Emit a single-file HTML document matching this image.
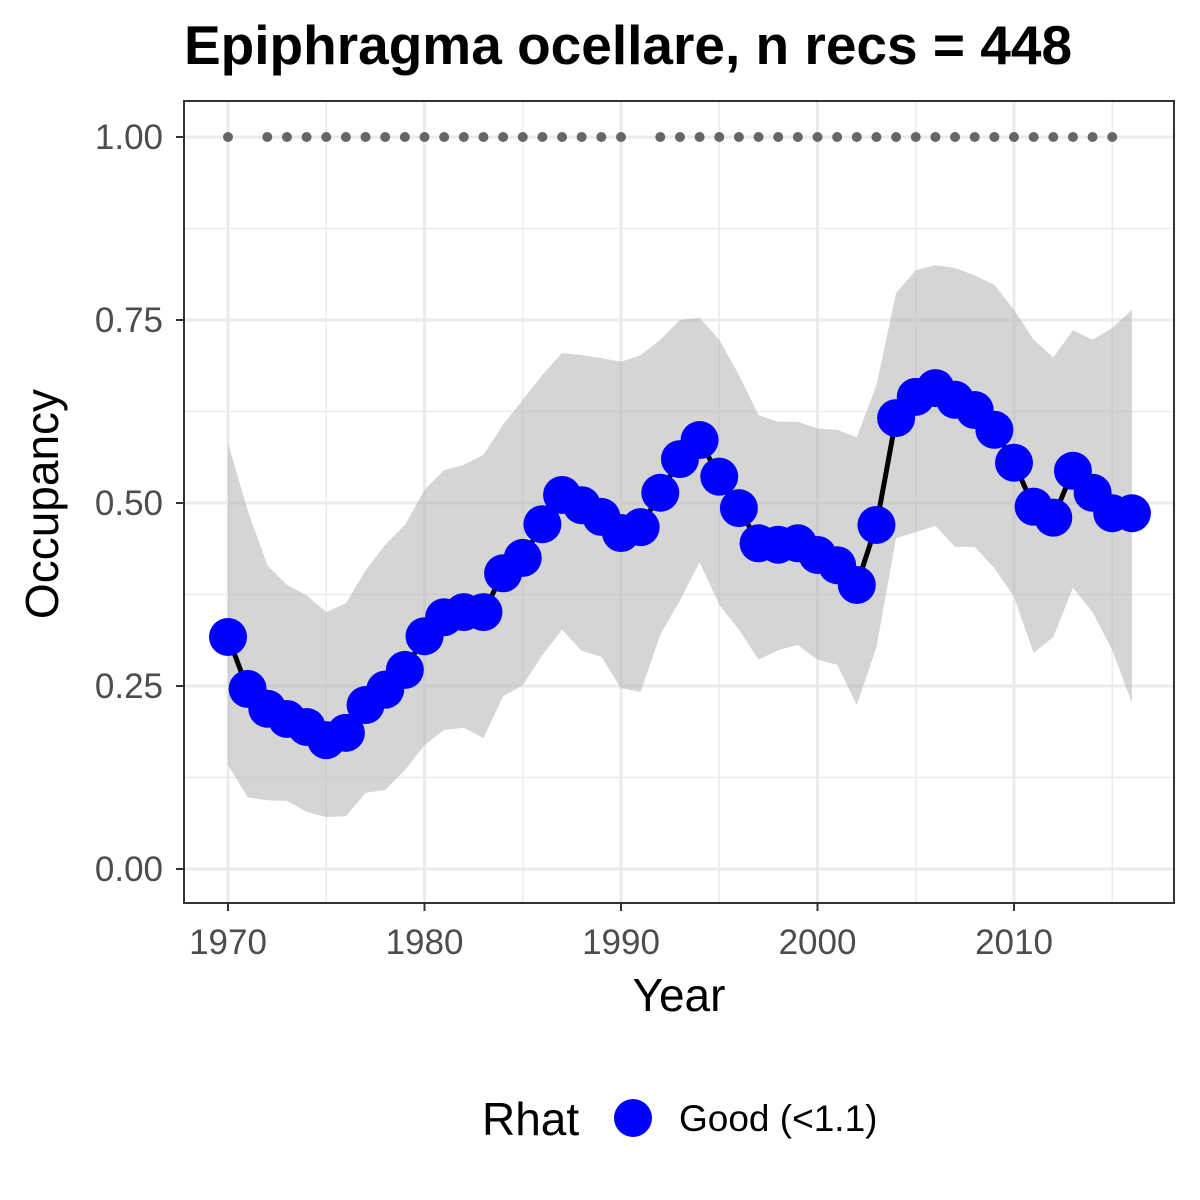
<!DOCTYPE html>
<html><head><meta charset="utf-8"><style>
body{margin:0;background:#fff;}
svg{display:block;font-family:"Liberation Sans",Arial,sans-serif;}
</style></head><body>
<svg id="chart" width="1200" height="1200" viewBox="0 0 1200 1200" xmlns="http://www.w3.org/2000/svg">
<rect width="1200" height="1200" fill="#fff"/>
<text x="628" y="64" text-anchor="middle" font-size="55" font-weight="bold" fill="#000">Epiphragma ocellare, n recs = 448</text>
<g id="grid"></g>
<g id="band"></g>
<g id="line"></g>
<g id="pts"></g>
<g id="dots"></g>
<rect x="184" y="101" width="990" height="802" fill="none" stroke="#333" stroke-width="2"/>
<g id="axes"></g>
<text x="679" y="1011" text-anchor="middle" font-size="46" fill="#000">Year</text>
<text transform="translate(58,504) rotate(-90)" text-anchor="middle" font-size="46" fill="#000">Occupancy</text>
<g>
<text x="482" y="1135" font-size="46" fill="#000">Rhat</text>
<circle cx="633" cy="1118" r="19" fill="#0000ff"/>
<text x="679" y="1131" font-size="37" fill="#000">Good (&lt;1.1)</text>
</g>
</svg>
<script>
const years=[];for(let y=1970;y<=2016;y++)years.push(y);
const mean=[0.317,0.246,0.219,0.205,0.194,0.176,0.186,0.224,0.245,0.272,0.318,0.344,0.351,0.351,0.404,0.425,0.471,0.511,0.497,0.481,0.459,0.467,0.514,0.560,0.586,0.536,0.493,0.445,0.443,0.445,0.429,0.415,0.388,0.470,0.616,0.645,0.657,0.641,0.627,0.600,0.555,0.495,0.480,0.544,0.514,0.486,0.486];
const upper=[0.582,0.490,0.415,0.388,0.374,0.351,0.363,0.408,0.443,0.470,0.518,0.545,0.552,0.566,0.607,0.641,0.675,0.705,0.702,0.698,0.693,0.702,0.723,0.750,0.753,0.723,0.675,0.620,0.611,0.611,0.602,0.600,0.590,0.661,0.787,0.818,0.825,0.821,0.811,0.798,0.764,0.723,0.699,0.736,0.723,0.739,0.764];
const lower=[0.142,0.098,0.094,0.093,0.078,0.071,0.072,0.104,0.108,0.135,0.169,0.190,0.193,0.179,0.236,0.251,0.292,0.327,0.298,0.290,0.247,0.242,0.320,0.367,0.419,0.361,0.327,0.286,0.299,0.306,0.286,0.279,0.224,0.303,0.452,0.460,0.469,0.440,0.440,0.411,0.372,0.295,0.317,0.384,0.351,0.299,0.227];
const recYears=[1970,1972,1973,1974,1975,1976,1977,1978,1979,1980,1981,1982,1983,1984,1985,1986,1987,1988,1989,1990,1992,1993,1994,1995,1996,1997,1998,1999,2000,2001,2002,2003,2004,2005,2006,2007,2008,2009,2010,2011,2012,2013,2014,2015];
const xTicks=[1970,1980,1990,2000,2010];
const yTicks=[0,0.25,0.5,0.75,1];
const yTickLabels=["0.00","0.25","0.50","0.75","1.00"];
const NS="http://www.w3.org/2000/svg";
const X=y=>228+(y-1970)*19.65;
const Y=v=>869-v*732;
function mk(tag,attrs,parent){const e=document.createElementNS(NS,tag);for(const k in attrs)e.setAttribute(k,attrs[k]);document.getElementById(parent).appendChild(e);return e;}
for(let y=1975;y<=2015;y+=10){const e=mk('line',{x1:X(y),x2:X(y),y1:101,y2:903,stroke:'#ebebeb','stroke-width':1.5},'grid');

}
[0.125,0.375,0.625,0.875].forEach(v=>{const e=mk('line',{x1:184,x2:1174,y1:Y(v),y2:Y(v),stroke:'#ebebeb','stroke-width':1.5},'grid');

});
xTicks.forEach(t=>{const e=mk('line',{x1:X(t),x2:X(t),y1:101,y2:903,stroke:'#ebebeb','stroke-width':3},'grid');


const tk=mk('line',{x1:X(t),x2:X(t),y1:903,y2:911,stroke:'#333','stroke-width':2},'axes');


const l=mk('text',{x:X(t),y:954,'text-anchor':'middle','font-size':35,fill:'#4d4d4d'},'axes');l.textContent=t;

});
yTicks.forEach((t,i)=>{const e=mk('line',{x1:184,x2:1174,y1:Y(t),y2:Y(t),stroke:'#ebebeb','stroke-width':3},'grid');


const tk=mk('line',{x1:176,x2:184,y1:Y(t),y2:Y(t),stroke:'#333','stroke-width':2},'axes');


const l=mk('text',{x:163,y:Y(t)+12,'text-anchor':'end','font-size':35,fill:'#4d4d4d'},'axes');l.textContent=yTickLabels[i];

});
let d='';years.forEach((y,i)=>{d+=(i?'L':'M')+X(y)+','+Y(upper[i]);});
for(let i=years.length-1;i>=0;i--)d+='L'+X(years[i])+','+Y(lower[i]);
const band=mk('path',{d:d+'Z',fill:'#b3b3b3','fill-opacity':0.55},'band');


const ln=mk('polyline',{points:years.map((y,i)=>X(y)+','+Y(mean[i])).join(' '),fill:'none',stroke:'#000','stroke-width':5},'line');


years.forEach((y,i)=>{const c=mk('circle',{cx:X(y),cy:Y(mean[i]),r:19,fill:'#0000ff'},'pts');

});
recYears.forEach(y=>{const c=mk('circle',{cx:X(y),cy:Y(1),r:5,fill:'#666'},'dots');

});
</script>
</body></html>
